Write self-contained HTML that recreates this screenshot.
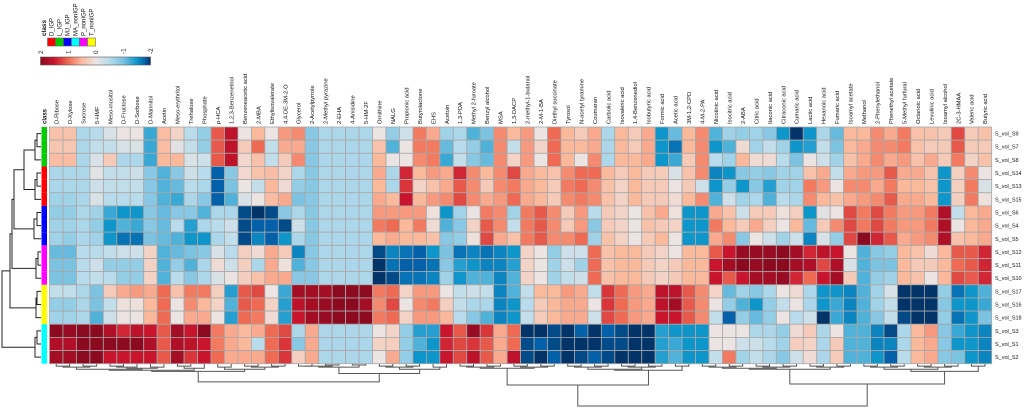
<!DOCTYPE html>
<html><head><meta charset="utf-8"><style>
html,body{margin:0;padding:0;background:#fff;}
svg{display:block;font-family:"Liberation Sans",sans-serif;}
</style></head><body>
<svg id="chart" width="1024" height="408" viewBox="0 0 1024 408" xmlns="http://www.w3.org/2000/svg">
<g id="legend"></g>
<g id="cells"></g>
<g id="collabels"></g>
<g id="rowlabels"></g>
<g id="classbar"></g>
<g id="rowdendro" stroke="#222" stroke-width="1" fill="none"></g>
<g id="coldendro" stroke="#555" stroke-width="1" fill="none"></g>
</svg>
<script>
const columns = ["D-Ribose","D-Xylose","Sucrose","5-HMF","Meso-inositol","D-Fructose","D-Sorbose","D-Mannitol","Acetin","Meso-erythritol","Trehalose","Phosphate","p-HCA","1,2,3-Benzenetriol","Benzeneacetic acid","2-MBA","Ethylisovalerate","4,4-DE-3M-2-O","Glycerol","2-Acetylpyrrole","2-Methyl pyrazine","2-EHA","4-Anisidine","5-HM-2F","Ornithine","NALG","Propionic acid","Butyrolactone","EHS","Acetoin","1,3-PDA","Methyl 2-furoate","Benzyl alcohol","MSA","1,3-DACP","2-methyl-1-butanol","2-M-1-BA","Diethyl succinate","Tyrosol","N-acetyl tyramine","Coumaran","Carbolic acid","Isovaleric acid","1,4-Benzenediol","Isobutyric acid","Formic acid","Acetic acid","3M-1,2-CPD","4-M-2-PA","Nicotinic acid","Isocitric acid","2-ABA","Citric acid","Itaconic acid","Citraconic acid","Cumaric acid","Lactic acid","Hexanoic acid","Fumaric acid","Isoamyl acetate","Methanol","2-Phenylethanol","Phenethyl acetate","5-Methyl furfural","Octanoic acid","Levulinic acid","Isoamyl alcohol","2C-3-HMAA","Valeric acid","Butyric acid"];
const rows = ["S_vol_S9","S_vol_S7","S_vol_S8","S_vol_S14","S_vol_S13","S_vol_S15","S_vol_S6","S_vol_S4","S_vol_S5","S_vol_S12","S_vol_S11","S_vol_S10","S_vol_S17","S_vol_S16","S_vol_S18","S_vol_S3","S_vol_S1","S_vol_S2"];
const rowClass = [1,1,1,0,0,0,2,2,2,4,4,4,5,5,5,3,3,3];
const classNames = ["D_IGP","L_IGP","MJ_IGP","MA_nonIGP","P_nonIGP","T_nonIGP"];
const classColors = ["#ff0000","#00cc00","#0000ff","#00ffff","#ff00ff","#ffff00"];
const scaleTicks = [2,1,0,-1,-2];
const colValues = [
[0.4,0.35,0.45,-0.6,-0.6,-0.7,-0.8,-0.7,-0.7,-1.1,-1.0,-1.0,-0.4,-0.8,-0.7,2.0,1.7,1.8],
[0.4,0.35,0.45,-0.6,-0.6,-0.7,-0.8,-0.7,-0.8,-1.1,-1.0,-1.0,-0.4,-0.8,-0.7,1.9,1.7,1.8],
[-0.6,-0.6,-0.6,-0.6,-0.6,-0.6,-0.6,-0.6,-0.6,-0.5,-0.5,-0.5,-0.6,-0.6,-0.6,2.0,2.0,2.0],
[-0.5,-0.4,-0.2,-0.1,-0.3,-0.2,-0.7,-0.8,-0.7,-0.5,-0.3,-0.4,-1.0,-1.0,-1.2,2.0,2.0,2.0],
[-0.2,-0.4,0.3,-0.4,-0.4,-0.5,-1.3,-1.5,-1.5,-0.4,-0.8,-0.5,0.3,-0.4,-0.3,1.7,2.0,1.5],
[0,-0.2,-0.6,-0.4,-0.4,-0.5,-1.5,-1.2,-1.7,-0.3,-0.8,-0.8,0.6,0.05,0,1.4,2.0,1.5],
[0,-0.2,-0.6,-0.3,-0.4,-0.5,-1.5,-1.3,-1.7,-0.3,-0.8,-0.8,0.7,0.05,0,1.6,2.0,1.5],
[-1.3,-1.3,-1.3,-0.9,-0.9,-0.9,-0.9,-0.9,-1.0,0.2,0.2,0.2,0.6,0.5,0.5,1.5,1.7,1.5],
[0.45,0.45,0.5,-1.2,-1.2,-1.2,-1.1,-1.1,-1.1,-1.2,-1.2,-1.2,1.0,1.0,1.0,1.1,1.1,1.1],
[0.2,-0.1,0.5,-0.9,-1.1,-1.3,-0.9,-0.5,-1.2,-1.1,-0.8,-0.5,0.4,0,0,1.8,1.7,1.8],
[-0.5,-0.4,-0.2,-0.3,-0.5,-0.6,-0.9,-1.4,-1.5,-1.0,-1.2,-0.9,0.9,0.8,0.6,1.5,1.6,1.3],
[-0.8,-0.8,-0.3,-0.5,-0.6,-0.9,-1.2,-0.6,-1.5,-0.9,-0.6,-0.6,0.9,0.5,0.6,2.0,1.5,1.5],
[1.1,1.1,1.1,-1.8,-1.8,-1.8,-0.6,-0.5,-0.6,-0.2,0.1,-0.2,0.25,0.2,0,0.9,0.9,1.0],
[1.6,1.6,1.6,-0.9,-1.0,-1.2,-0.6,-0.3,-0.4,-0.5,-0.3,0,-1.4,-1.2,-1.4,0.6,0.6,0.6],
[0,0.3,0.15,0.15,0,-0.2,-1.9,-1.9,-1.9,0.25,0.25,0.25,1.1,1.1,1.0,0.5,0.5,0.6],
[0.5,1.0,0.4,0.4,-0.4,0,-2.0,-1.8,-1.6,0.1,-0.6,0.4,1.2,1.0,0.9,0.6,-0.5,0.6],
[0,-0.4,-0.4,0.45,0.5,0.45,-1.9,-1.8,-1.8,0.6,0.6,0.6,0,0.2,0.1,1.0,1.0,1.0],
[0.7,0.6,0.3,0.2,0.1,0.6,-0.9,-1.9,-1.5,0.3,0.05,0.6,-1.3,-1.4,-1.4,1.2,1.3,1.3],
[0.8,0.6,0.8,-0.6,-0.8,-1.0,-0.6,-0.3,-0.6,-1.6,-1.2,-0.9,1.8,1.6,1.5,-0.6,-0.9,0.25],
[-0.9,-0.9,-0.9,-0.9,-0.9,-0.9,-0.9,-0.9,-0.9,-0.9,-0.9,-0.9,1.8,1.8,1.8,0.6,0.6,0.6],
[-0.6,-0.6,-0.6,-0.6,-0.6,-0.6,-0.6,-0.6,-0.6,-0.6,-0.6,-0.6,1.8,1.9,1.9,-0.6,-0.6,-0.6],
[-0.6,-0.6,-0.6,-0.6,-0.6,-0.6,-0.6,-0.6,-0.6,-0.6,-0.6,-0.6,2.0,2.0,2.0,-0.6,-0.6,-0.6],
[-0.6,-0.6,-0.6,-0.6,-0.6,-0.6,-0.6,-0.6,-0.6,-0.6,-0.6,-0.6,2.0,2.0,2.0,-0.6,-0.6,-0.6],
[-0.6,-0.6,-0.6,-0.6,-0.6,-0.6,-0.6,-0.6,-0.6,-0.6,-0.6,-0.6,2.0,1.8,2.0,-0.6,-0.6,-0.6],
[0,0.4,0.5,0.6,0.5,0.6,0.7,0.9,0.5,-1.9,-2.0,-2.0,0.9,0.8,0.9,0,0.2,0],
[-0.8,-1.2,0,-0.6,-0.6,0.5,0.7,1.0,0.6,-1.6,-1.7,-1.9,1.0,1.2,1.0,0.2,0.25,0.6],
[-0.3,0,0,1.4,1.3,1.5,0.7,0.5,0.5,-1.7,-1.8,-1.7,0.2,0,0.2,-0.8,-0.8,-0.8],
[0.9,0.9,0.8,0.5,0.2,0.5,0.7,0.9,0.5,-1.8,-1.8,-1.7,0.7,0.8,0.7,-1.4,-1.2,-1.5],
[0.6,0.9,0.9,0.7,0.4,0.7,0.05,0.1,0.4,-1.5,-1.7,-1.6,0.7,0.9,0.7,-1.4,-1.5,-1.5],
[-0.7,-1.1,-1.3,0.6,0.6,0.8,-1.5,-1.2,-0.9,-1.0,-0.9,-0.7,0,0.25,0.5,1.5,1.4,1.5],
[-0.6,-0.5,-0.4,1.4,1.1,1.2,-0.7,-0.9,-0.8,-1.7,-1.4,-1.5,-0.4,-0.4,-0.5,1.1,1.2,1.2],
[-1.2,-0.8,-0.9,0.8,0.8,0.8,0,0.2,0.05,-1.6,-1.5,-1.2,-0.3,-0.6,-0.9,1.9,1.3,1.6],
[-1.0,-1.2,-1.1,0.5,0.3,0.6,0.9,1.1,1.2,-1.7,-1.6,-1.2,-0.4,-0.6,-1.2,1.3,1.1,1.1],
[0.8,0.8,0.8,0.8,0.8,0.7,0.8,0.8,0.6,-1.6,-1.6,-1.6,-1.6,-1.6,-1.6,0.6,0.6,0.6],
[0.5,-0.4,0.2,1.2,0.9,1.0,-0.7,-0.4,0.4,-1.5,-1.4,-1.2,-1.2,-1.5,-1.5,1.0,1.0,1.6],
[0.7,0.7,0.7,0.6,0.6,0.6,0.9,0.9,0.9,0.2,0.2,0.2,-0.4,-0.5,-0.4,-2.0,-1.9,-1.9],
[0,0.2,0,0.5,0.5,0.5,1.1,1.1,1.1,0,0,0,0.5,0.3,0.3,-2.0,-1.8,-2.0],
[1.0,1.0,1.0,0.4,0.3,0.3,0.8,0.8,0.8,-0.8,-0.7,-0.7,0.5,0.5,0.5,-1.9,-1.9,-1.8],
[0.5,0.5,0.5,0.8,0.9,0.8,0.3,0.3,0.8,-0.3,-0.3,-0.4,0.7,0.6,0.6,-2.0,-2.0,-2.0],
[0.3,0.5,0,1.0,1.0,0.9,0.7,0.7,1.0,-0.3,-0.7,-0.3,0.6,0.6,0.6,-1.8,-2.0,-1.9],
[0.6,0.6,0.8,1.0,0.8,0.8,-0.5,-0.9,-0.7,1.0,1.0,1.0,-0.4,0,-0.3,-2.0,-2.0,-1.8],
[-0.6,-0.6,-0.6,0.5,0.4,0.4,0.3,0.3,0.4,0.4,0.4,0.4,1.3,1.3,1.2,-1.8,-1.9,-1.9],
[0.5,0.5,0.5,0.3,0.2,0.2,0.2,0.2,0.2,0.5,0.5,0.5,1.0,1.0,1.0,-1.9,-1.9,-2.0],
[0.3,0.3,0.5,0.5,0.5,0.5,0,0,0,0.5,0.5,0.5,0.7,0.7,0.7,-2.0,-2.0,-2.0],
[0.6,0.6,0.6,0.3,0.3,0.3,0.4,0.4,0.3,0.3,0.3,0.3,0.6,0.6,0.6,-2.0,-2.0,-2.0],
[-1.5,-1.5,-1.5,0.3,0.3,0.3,0.6,0.3,0.5,0.2,0.2,0.2,1.6,1.6,1.5,-1.4,-1.4,-1.4],
[-1.1,-1.7,-1.3,-0.2,0,0.1,0.05,0.2,0,0,0.3,0.3,1.6,1.8,1.5,-1.5,-1.3,-1.2],
[0.5,0.5,0.3,0.4,0.3,0.5,-1.5,-1.5,-1.5,0.5,0.5,0.5,1.1,1.1,1.1,-1.5,-1.5,-1.5],
[0.8,0.8,0.8,0.8,-0.3,0.8,-1.5,-1.5,-1.5,0.5,0.5,0.5,0.8,0.8,0.8,-1.5,-1.5,-1.5],
[-1.2,-1.5,-0.5,-1.6,-1.5,-1.2,0.6,0.9,0.6,1.1,1.5,1.5,0.2,0,-0.4,0,0,-0.4],
[-0.7,-1.2,-0.7,-1.5,-0.8,-0.3,0.4,0.5,0.8,1.5,1.8,1.1,-1.1,-0.8,-1.8,0,0,0.9],
[-0.8,0.1,0.5,-0.9,-1.5,-0.7,-0.3,0.3,-0.9,1.9,2.0,1.5,-0.7,-1.2,-0.8,0,-0.3,-0.7],
[-0.7,-0.7,0.1,-0.8,-0.9,-0.6,0.3,0.6,0,1.9,1.9,1.8,-0.9,-1.5,-1.1,-0.6,-0.3,-0.4],
[-0.9,-0.4,0.1,-0.9,-1.4,-1.2,0.3,0.25,-0.3,1.9,2.0,1.8,-0.6,-0.8,-0.8,-0.6,-0.5,-0.6],
[-1.5,-0.7,-0.5,-0.7,-0.7,-0.5,0.05,0,-0.7,2.0,2.0,1.9,0,-0.4,0,-0.8,-0.7,-0.9],
[-2.0,-1.5,-1.0,-0.7,-0.7,-0.6,0.25,0.5,-0.3,1.8,1.8,1.4,0.1,0,-0.5,0.1,0.25,-0.3],
[-1.5,-1.4,0,0.4,0.9,0.8,-1.5,-1.1,-1.6,1.4,1.7,1.0,-0.6,-0.6,-0.3,0.3,0.2,0.1],
[-0.6,-0.4,-0.3,0.6,0.7,0.5,-0.1,0.3,-0.2,1.6,1.2,1.5,-1.5,-1.5,-2.0,-0.6,-0.6,-0.6],
[-1.1,-1.0,-0.7,-0.4,0,0.4,0,0.8,-0.8,1.5,1.7,1.8,-1.5,-1.3,-1.3,0,0.3,0.3],
[0.5,0.5,0.4,0.6,0.8,0.6,1.2,1.2,1.2,0,-0.2,0.3,-1.6,-1.6,-1.6,-1.2,-1.2,-1.2],
[0.5,0.6,0.6,0.7,0.8,0.7,0.9,0.9,2.0,-1.2,-1.2,-1.2,-1.2,-1.2,-1.2,-1.2,-1.2,-1.2],
[0.8,0.8,0.8,0.7,0.6,0.8,1.2,1.2,1.4,-0.9,-1.0,-0.8,-0.7,-0.7,-0.9,-1.6,-1.6,-1.5],
[0.6,0.8,0.6,1.1,0.9,1.1,0.9,0.9,1.1,-0.8,-1.0,-0.7,-0.2,-0.4,-0.4,-1.9,-1.6,-1.8],
[0.9,0.9,0.7,0.6,0.5,0.6,0.7,0.7,0.6,0.5,0.5,0.5,-2.0,-2.0,-1.9,-0.6,-0.6,-0.5],
[0.4,0.4,0.4,0.6,0.5,0.6,0.7,0.7,0.7,0.4,0.3,0.4,-2.0,-2.0,-2.0,0.5,0.5,0.5],
[0.4,0.3,0.6,0.4,0.4,0.5,0.9,0.9,0.8,0.1,0.3,0,-2.0,-2.0,-2.0,0.7,0.6,0.6],
[0.3,0.3,0.3,-1.5,-1.5,-1.5,1.7,1.7,1.7,0.5,0.5,0.5,-0.8,-0.9,-0.8,-0.9,-0.9,-0.9],
[1.2,1.1,0.9,0.25,0.25,0.25,-0.4,0,0.4,1.1,1.0,1.2,-1.7,-1.5,-1.7,-1.3,-1.5,-1.0],
[0.3,0.3,0.2,0.8,0.9,0.9,0.5,0.5,0.5,1.1,1.1,1.1,-1.5,-1.5,-1.5,-1.5,-1.5,-1.5],
[0.4,0.3,0.4,0,-0.2,0.05,0.6,0.6,0.6,1.4,1.4,1.4,-1.2,-1.3,-1.0,-1.6,-1.6,-1.6]
];
const rowMerges = [[0,1,4],[2,"c0",6],[3,4,4],[5,"c2",6],["c1","c3",17],[6,7,4],[8,"c5",7],["c4","c6",27],[9,10,3],[11,"c8",5],["c7","c9",29],[12,13,4],[14,"c11",5],["c10","c12",31],[15,16,4],[17,"c14",6],["c13","c15",39]];
const colMerges = [
[0,1,2],[2,3,2],["c0","c1",3],[4,5,2],[6,"c3",3],[7,8,3],["c4","c5",4],["c2","c6",5],[9,10,2],[11,"c8",4],["c7","c9",6],
[12,13,3],[14,15,2],[16,17,2],["c12","c13",3],["c11","c14",5],["c10","c15",7],
[18,19,2],[20,21,1],[22,23,1],["c17","c18",2],["c19","c20",3],[24,25,2],[26,27,2],[28,29,3],["c22","c23",3],["c24","c25",5],["c21","c26",9],["c16","c27",17],
[30,31,2],[32,33,2],["c29","c30",3],[34,35,2],[36,37,2],["c32","c33",3],["c31","c34",4],
[38,39,2],[40,41,2],["c36","c37",3],[42,43,2],[44,45,2],["c39","c40",3],["c38","c41",5],[46,47,2],["c42","c43",6],["c35","c44",20],
[48,49,2],[50,51,2],["c46","c47",3],[52,53,2],[54,55,2],["c49","c50",3],["c48","c51",4],[56,57,2],[58,59,2],["c53","c54",3],["c52","c55",5],
[60,61,2],[62,63,2],["c57","c58",3],[64,65,2],[66,67,2],["c60","c61",3],["c59","c62",5],[68,69,2],["c63","c64",7],["c56","c65",19],["c45","c66",40]
];

const NS="http://www.w3.org/2000/svg";
const X0=49.5, CW=13.46, Y0=127, RH=13.15;
function xCol(i){return X0+i*CW;}
function yRow(r){return Y0+r*RH;}
const stops=[[-2,[2,51,105]],[-1.8,[4,96,168]],[-1.5,[14,150,203]],[-1,[124,195,226]],[-0.5,[184,220,236]],[0,[236,228,226]],[0.5,[251,185,156]],[1,[239,106,82]],[1.5,[200,20,44]],[2,[139,10,32]]];
function color(v){
  v=Math.max(-2,Math.min(2,v));
  for(let k=0;k<stops.length-1;k++){
    const a=stops[k],b=stops[k+1];
    if(v>=a[0]&&v<=b[0]){const t=(v-a[0])/(b[0]-a[0]);
      const c=a[1].map((x,j)=>Math.round(x+(b[1][j]-x)*t));return `rgb(${c[0]},${c[1]},${c[2]})`;}
  }
  return "#fff";
}
function mk(tag,attrs,parent){const e=document.createElementNS(NS,tag);for(const k in attrs)e.setAttribute(k,attrs[k]);parent.appendChild(e);return e;}

const cells=document.getElementById('cells');
colValues.forEach((col,i)=>{col.forEach((v,r)=>{
  const rc=mk('rect',{x:xCol(i),y:yRow(r),width:CW,height:RH,fill:color(v),stroke:'#a8a8a8','stroke-width':0.8},cells);
  
  
});});

const cl=document.getElementById('collabels');
columns.forEach((n,i)=>{
  const cx=xCol(i)+CW/2+2.2;
  const t=mk('text',{x:0,y:0,transform:`translate(${cx},124) rotate(-90)`,'font-size':5.8,fill:'#111'},cl);
  t.textContent=n;
  
  
});
const ch=mk('text',{x:0,y:0,transform:`translate(46.5,124) rotate(-90)`,'font-size':6,'font-weight':'bold',fill:'#111'},cl);
ch.textContent='class';



const rl=document.getElementById('rowlabels');
rows.forEach((n,r)=>{
  const t=mk('text',{x:995,y:yRow(r)+RH/2+2,'font-size':5.5,fill:'#111'},rl);
  t.textContent=n;
  
  
});

const cb=document.getElementById('classbar');
rowClass.forEach((c,r)=>{
  const rc=mk('rect',{x:41.5,y:yRow(r),width:5.5,height:RH,fill:classColors[c]},cb);
  
  
});

function drawDendro(merges,leafPos,g,scaleH,base,vertical){
  const pos={},hgt={};
  function P(id){return typeof id==='number'?leafPos(id):pos[id];}
  function H(id){return typeof id==='number'?0:hgt[id];}
  merges.forEach((m,k)=>{
    const [a,b,h]=m;const pa=P(a),pb=P(b),ha=H(a),hb=H(b);
    const id='c'+k;pos[id]=(pa+pb)/2;hgt[id]=h;
    let d;
    if(vertical){
      const ya=base+ha*scaleH,yb=base+hb*scaleH,yh=base+h*scaleH;
      d=`M${pa},${ya}V${yh}H${pb}V${yb}`;
    } else {
      const xa=base-ha*scaleH,xb=base-hb*scaleH,xh=base-h*scaleH;
      d=`M${xa},${pa}H${xh}V${pb}H${xb}`;
    }
    const p=mk('path',{d:d},g);
    
    
  });
}
drawDendro(rowMerges,r=>yRow(r)+RH/2,document.getElementById('rowdendro'),1.0,41,false);
drawDendro(colMerges,i=>xCol(i)+CW/2,document.getElementById('coldendro'),1.05,364,true);

const lg=document.getElementById('legend');
const lh=mk('text',{x:0,y:0,transform:'translate(46,36) rotate(-90)','font-size':6.4,'font-weight':'bold',fill:'#111'},lg);
lh.textContent='class';


classNames.forEach((n,k)=>{
  const x=47.5+k*8;
  const r=mk('rect',{x:x,y:38,width:8,height:8,fill:classColors[k],stroke:'#666','stroke-width':0.6},lg);
  
  
  const t=mk('text',{x:0,y:0,transform:`translate(${x+6},36) rotate(-90)`,'font-size':6,fill:'#111'},lg);
  t.textContent=n;
  
  
});
const defs=mk('defs',{},document.getElementById('chart'));
const grad=mk('linearGradient',{id:'cbar',x1:0,x2:1,y1:0,y2:0},defs);
for(let k=stops.length-1;k>=0;k--){
  const s=stops[k];mk('stop',{offset:((2-s[0])/4*100)+'%','stop-color':color(s[0])},grad);
}
const bar=mk('rect',{x:40.5,y:57,width:110,height:8,fill:'url(#cbar)',stroke:'#555','stroke-width':0.6},lg);


scaleTicks.forEach(v=>{
  const x=40.5+(2-v)/4*110;
  const t=mk('text',{x:0,y:0,transform:`translate(${x+2.5},54) rotate(-90)`,'font-size':6.4,fill:'#111'},lg);
  t.textContent=String(v);
  
  
});
</script>
</body></html>
